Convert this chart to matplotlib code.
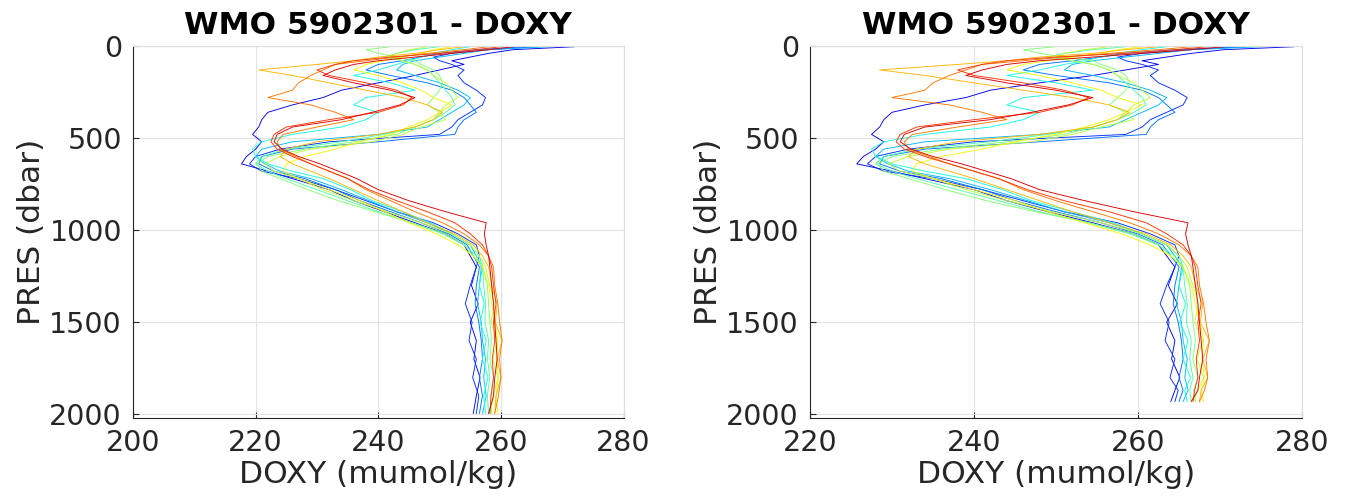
import numpy as np
import matplotlib
matplotlib.use("Agg")
import matplotlib.pyplot as plt

# pressure levels (dbar) of the profiles
pres_raw = [4, 20, 40, 60, 80, 100, 130, 160, 200, 240, 280, 320, 360, 400, 440, 480, 520, 560, 600,
            640, 680, 720, 780, 840, 900, 960, 1020, 1080, 1140, 1200, 1300, 1400, 1500, 1600,
            1700, 1800, 1900, 1995]
pres_adj = [4, 20, 40, 60, 80, 100, 130, 160, 200, 240, 280, 320, 360, 400, 440, 480, 520, 560, 600,
            640, 680, 720, 780, 840, 900, 960, 1020, 1080, 1140, 1200, 1300, 1400, 1500, 1600,
            1700, 1800, 1870, 1930]

# DOXY profiles, left panel (cycle order: first = blue ... last = red)
doxy_raw = [
    [272, 262, 258, 255, 252, 254, 250, 246, 240, 234, 231, 226, 222, 221, 220.5, 219.5, 221, 220, 218.5,
     217.7, 222, 226, 232, 236, 241, 246, 251, 254, 255, 256, 255.2, 256.3, 255.0, 256.0, 255.6, 256.6, 256.0, 255.5],
    [266, 258, 252, 249, 250, 252, 254, 253, 254, 256, 257.5, 257, 255, 253, 252, 250, 232, 224, 220,
     219, 221, 227, 233, 238, 243, 249, 253, 256, 256.5, 256, 255.0, 254.2, 255.3, 254.8, 256.0, 255.4, 256.4, 256.0],
    [264, 256, 250, 247, 244, 240, 238, 242, 248, 252, 254, 255, 256, 254, 253, 252.5, 240, 226, 221,
     220.5, 223, 228, 233, 237, 242, 247, 251.5, 254.5, 255.5, 256.5, 256, 255.8, 256.4, 256.8, 257, 256.5, 257, 256.5],
    [268, 258, 254, 250, 246, 244, 243, 246, 250, 253, 255, 254, 252, 250, 248, 240, 226, 221, 220,
     221.5, 224, 229, 234, 238.5, 243, 248, 252, 255, 256, 256.8, 256.5, 256.2, 256.8, 257, 257.5, 257.2, 257.6, 257],
    [255, 252, 249, 247, 245, 243, 240, 236, 242, 246, 238, 236, 240, 238, 234, 226, 221, 219.5, 220,
     222, 226, 231, 235.5, 239, 244, 248.5, 252, 255, 256.5, 257, 256.5, 257.3, 256.6, 257.6, 257.0, 257.9, 257.2, 257.5],
    [250, 246, 243, 241, 244, 246, 248, 249, 250, 251, 252, 252.5, 251, 249, 246, 241, 234, 225, 221,
     220, 222, 225, 230, 235, 240, 245.5, 250.5, 254, 256, 257, 257.2, 257.5, 257.4, 258, 257.8, 258.2, 257.8, 258],
    [242, 238, 240, 243, 246, 247, 249, 250, 250.5, 250, 249, 248, 250, 249, 246, 243, 236, 228, 222,
     220.2, 221, 224, 228.5, 233.5, 239.5, 245.5, 251, 254, 255.5, 257, 257.8, 258, 258.2, 258.5, 258.2, 258.8, 258.3, 258.5],
    [248, 245, 243, 242, 244, 246, 248, 249, 251, 252, 253, 251, 250, 251, 247, 244, 239, 229, 224,
     221.5, 223, 227, 231, 236, 241.5, 247, 252, 255, 256.5, 257.5, 258.2, 258.9, 258.4, 259.4, 258.7, 259.5, 258.8, 258.3],
    [252, 249, 247, 244, 241, 238, 236, 240, 244, 247, 249, 252, 250, 248, 245, 242, 237, 233, 228,
     225, 224.5, 227, 232, 237, 241, 245, 249.5, 253, 255.5, 257, 258, 258.5, 259, 259.5, 259.3, 259.6, 259.2, 259.5],
    [254, 250, 246, 240, 236, 230, 220.5, 226, 232, 238, 244, 248, 250.5, 249, 246, 240, 230, 225, 224,
     226, 229, 232, 236, 240, 244, 248, 252.5, 255.5, 257, 258, 258.5, 259.4, 259.1, 260.2, 259.4, 260.0, 259.2, 259.0],
    [258, 254, 248, 243, 238, 233, 231, 229, 227, 226, 222, 229, 233, 236, 230, 224.5, 223.5, 224, 226.5,
     229, 232, 235, 238, 242, 246, 250.5, 254, 256.5, 258, 258.8, 259, 259.5, 259.8, 260.2, 259.8, 260, 259.6, 259],
    [260, 256, 250, 242, 236, 233, 230, 232, 238, 243, 245.5, 244, 240, 232, 225, 223, 222.5, 223.5, 226,
     229, 232, 235, 238.5, 243, 248, 252.5, 255, 257, 258, 258.5, 258.8, 259.2, 258.8, 259, 258.6, 258.8, 258.4, 258.2],
    [262, 258, 252, 246, 240, 236, 233, 231, 236, 242, 246, 243.5, 239, 234, 226, 223.5, 223, 224.3, 227,
     230.5, 233.5, 236.5, 240, 245, 251, 257.6, 257.3, 257.6, 258, 258.2, 258.5, 258.8, 259, 259.2, 259.4, 259, 258.8, 258],
]

# DOXY profiles, right panel
doxy_adj = [
    [279, 270.5, 266.5, 263.5, 260.5, 262.5, 258.5, 254.5, 248, 242, 239, 234, 230, 229, 228.5, 227.5, 229, 228, 226.5,
     225.7, 230, 234, 240, 244, 249, 254.5, 259.5, 262.5, 263.5, 264.5, 263.7, 264.8, 263.5, 264.5, 264.1, 265.1, 264.5, 264],
    [273, 266.5, 260.5, 257.5, 258.5, 260.5, 262.5, 261.5, 262.5, 264.5, 266, 265.5, 263.5, 261.5, 260.5, 258.5, 240, 232, 228,
     227, 229, 235, 241, 246, 251, 257.5, 261.5, 264.5, 265, 264.5, 263.5, 262.7, 263.8, 263.3, 264.5, 263.9, 264.9, 264.5],
    [272.5, 264.5, 258.5, 255.5, 252, 248, 246, 250, 256.5, 260.5, 262.5, 263.5, 264.5, 262.5, 261.5, 261, 248, 234, 229,
     228.5, 231, 236, 241, 245, 250, 255.5, 260, 263, 264, 265, 264.5, 264.3, 264.9, 265.3, 265.5, 265, 265.5, 265],
    [275, 266.5, 262.5, 258.5, 254.5, 252, 251, 254.5, 258.5, 261.5, 263.5, 262.5, 260.5, 258.5, 256.5, 248, 234, 229, 228,
     229.5, 232, 237, 242, 246.5, 251, 256.5, 260.5, 263.5, 264.5, 265.3, 265, 264.7, 265.3, 265.5, 266, 265.7, 266.1, 265.5],
    [263.5, 260.5, 257.5, 255.5, 253.5, 251, 248, 244, 250, 254.5, 246, 244, 248, 246, 242, 234, 229, 227.5, 228,
     230, 234, 239, 243.5, 247, 252, 257, 260.5, 263.5, 265, 265.5, 265, 265.8, 265.1, 266.1, 265.5, 266.4, 265.7, 266],
    [258.5, 254.5, 251, 249, 252, 254.5, 256.5, 257.5, 258.5, 259.5, 260.5, 261, 259.5, 257.5, 254.5, 249, 242, 233, 229,
     228, 230, 233, 238, 243, 248, 254, 259, 262.5, 264.5, 265.5, 265.7, 266, 265.9, 266.5, 266.3, 266.7, 266.3, 266.5],
    [250, 246, 248, 251, 254.5, 255.5, 257.5, 258.5, 259, 258.5, 257.5, 256.5, 258.5, 257.5, 254.5, 251, 244, 236, 230,
     228.2, 229, 232, 236.5, 241.5, 247.5, 254, 259.5, 262.5, 264, 265.5, 266.3, 266.5, 266.7, 267, 266.7, 267.3, 266.8, 267],
    [256.5, 253.5, 251, 250, 252, 254.5, 256.5, 257.5, 259.5, 260.5, 261.5, 259.5, 258.5, 259.5, 255.5, 252, 247, 237, 232,
     229.5, 231, 235, 239, 244, 249.5, 255.5, 260.5, 263.5, 265, 266, 266.7, 267.4, 266.9, 267.9, 267.2, 268, 267.3, 266.8],
    [260.5, 257.5, 255.5, 252, 249, 246, 244, 248, 252, 255.5, 257.5, 260.5, 258.5, 256.5, 253.5, 250, 245, 241, 236,
     233, 232.5, 235, 240, 245, 249, 253.5, 258, 261.5, 264, 265.5, 266.5, 267, 267.5, 268, 267.8, 268.1, 267.7, 268],
    [262.5, 258.5, 254.5, 248, 244, 238, 228.5, 234, 240, 246, 252, 256.5, 259, 257.5, 254.5, 248, 238, 233, 232,
     234, 237, 240, 244, 248, 252, 256.5, 261, 264, 265.5, 266.5, 267, 267.9, 267.6, 268.7, 267.9, 268.5, 267.7, 267.5],
    [266.5, 262.5, 256.5, 251, 246, 241, 239, 237, 235, 234, 230, 237, 241, 244, 238, 232.5, 231.5, 232, 234.5,
     237, 240, 243, 246, 250, 254.5, 259, 262.5, 265, 266.5, 267.3, 267.5, 268, 268.3, 268.7, 268.3, 268.5, 268.1, 267.5],
    [268.5, 264.5, 258.5, 250, 244, 241, 238, 240, 246, 251, 254, 252, 248, 240, 233, 231, 230.5, 231.5, 234,
     237, 240, 243, 246.5, 251, 256.5, 261, 263.5, 265.5, 266.5, 267, 267.3, 267.7, 267.3, 267.5, 267.1, 267.3, 266.9, 266.7],
    [270.5, 266.5, 260.5, 254.5, 248, 244, 241, 239, 244, 250, 254.5, 251.5, 247, 242, 234, 231.5, 231, 232.3, 235,
     238.5, 241.5, 244.5, 248, 253.5, 259.5, 266.1, 265.8, 266.1, 266.5, 266.7, 267, 267.3, 267.5, 267.7, 267.9, 267.5, 267.3, 266.5],
]

title = "WMO 5902301 - DOXY"
xticks_raw = [200, 220, 240, 260, 280]
xticks_adj = [220, 240, 260, 280]
yticks = [0, 500, 1000, 1500, 2000]

plt.rcParams['font.family'] = ['DejaVu Sans']

fig = plt.figure(figsize=(13.49, 5.04), dpi=100)
ax1 = fig.add_axes([133 / 1349, 86 / 504, 490.5 / 1349, 372 / 504])
ax2 = fig.add_axes([810 / 1349, 86 / 504, 492 / 1349, 372 / 504])

colors = plt.cm.jet(np.linspace(0.1, 0.92, len(doxy_raw)))


def draw_panel(ax, pres, profiles, xticks):
    for prof, c in zip(profiles, colors):
        ax.plot(prof, pres, color=c, lw=0.65)
    ax.set_xlim(xticks[0], xticks[-1])
    ax.set_ylim(2020, 0)
    ax.set_xticks(xticks)
    ax.set_yticks(yticks)
    ax.grid(True, color='#e3e3e3', lw=0.8)
    ax.set_axisbelow(True)
    for side in ['top', 'right']:
        ax.spines[side].set_color('#dddddd')
    for side in ['left', 'bottom']:
        ax.spines[side].set_color('#262626')
    ax.tick_params(direction='in', length=4, width=0.8, color='#262626',
                   labelsize=20.5, labelcolor='#262626', pad=8)
    ax.set_title(title, fontsize=22.5, fontweight='bold', pad=8.5)
    ax.set_xlabel('DOXY (mumol/kg)', fontsize=22.5, color='#262626', labelpad=2)
    ax.set_ylabel('PRES (dbar)', fontsize=22.5, color='#262626', labelpad=2)


draw_panel(ax1, pres_raw, doxy_raw, xticks_raw)
draw_panel(ax2, pres_adj, doxy_adj, xticks_adj)

fig.savefig('out.png', dpi=100)
